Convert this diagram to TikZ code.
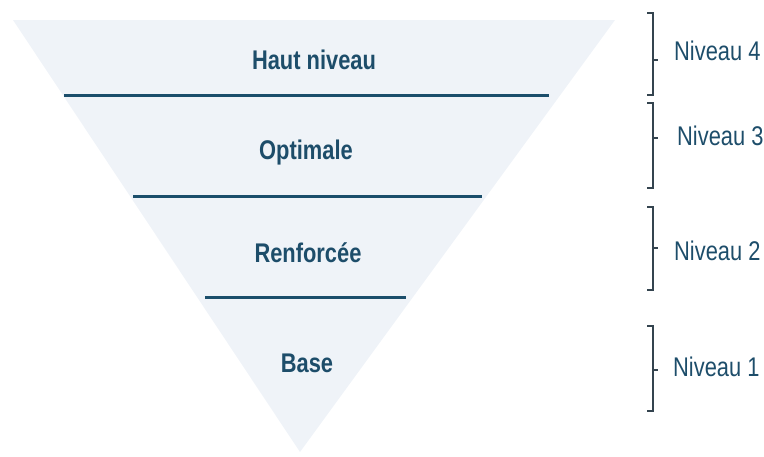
\documentclass[tikz,border=0pt]{standalone}
\usepackage{fontspec}
\setmainfont{Liberation Sans}[FakeStretch=0.81]
\definecolor{txtblue}{HTML}{1D4D6A}
\definecolor{lineblue}{HTML}{1B4E6B}
\definecolor{pyrfill}{HTML}{EFF3F8}
\definecolor{brk}{HTML}{34444F}
\begin{document}
\begin{tikzpicture}[x=1pt,y=-1pt,
  tier/.style={anchor=base,text=txtblue,font=\fontsize{27}{29}\selectfont\bfseries,inner sep=0pt},
  lvl/.style={anchor=base west,text=txtblue,font=\fontsize{27}{29}\selectfont,inner sep=0pt},
  sep/.style={draw=lineblue,line width=3pt},
  brace/.style={draw=brk,line width=1.2pt}]
\useasboundingbox (0,0) rectangle (764,456);
% pyramid
\coordinate (tl) at (13,20);
\coordinate (tr) at (615,20);
\coordinate (ap) at (300,452);
\fill[pyrfill] (tl) -- (tr) -- (ap) -- cycle;
% separators
\coordinate (s1a) at (64,95);  \coordinate (s1b) at (549,95);
\coordinate (s2a) at (133,196); \coordinate (s2b) at (482,196);
\coordinate (s3a) at (205,297); \coordinate (s3b) at (406,297);
\draw[sep] (s1a) -- (s1b);
\draw[sep] (s2a) -- (s2b);
\draw[sep] (s3a) -- (s3b);
% tier labels
\node[tier] (t4) at (314,69) {Haut niveau};
\node[tier] (t3) at (306,159) {Optimale};
\node[tier] (t2) at (308,262) {Renforcée};
\node[tier] (t1) at (307,372) {Base};
% brackets
\foreach \top/\bot/\mid/\nm in {13/95/60/b4, 103/188/138/b3, 207/290/248/b2, 326/411/370/b1}{
  \draw[brace] (647,\top) -- (653,\top) -- (653,\bot) -- (647,\bot);
  \draw[brace] (653,\mid) -- (658,\mid);
}
% level labels
\node[lvl] (n4) at (674,60) {Niveau 4};
\node[lvl] (n3) at (677,145) {Niveau 3};
\node[lvl] (n2) at (674,260) {Niveau 2};
\node[lvl] (n1) at (673,376) {Niveau 1};
\end{tikzpicture}
\end{document}
